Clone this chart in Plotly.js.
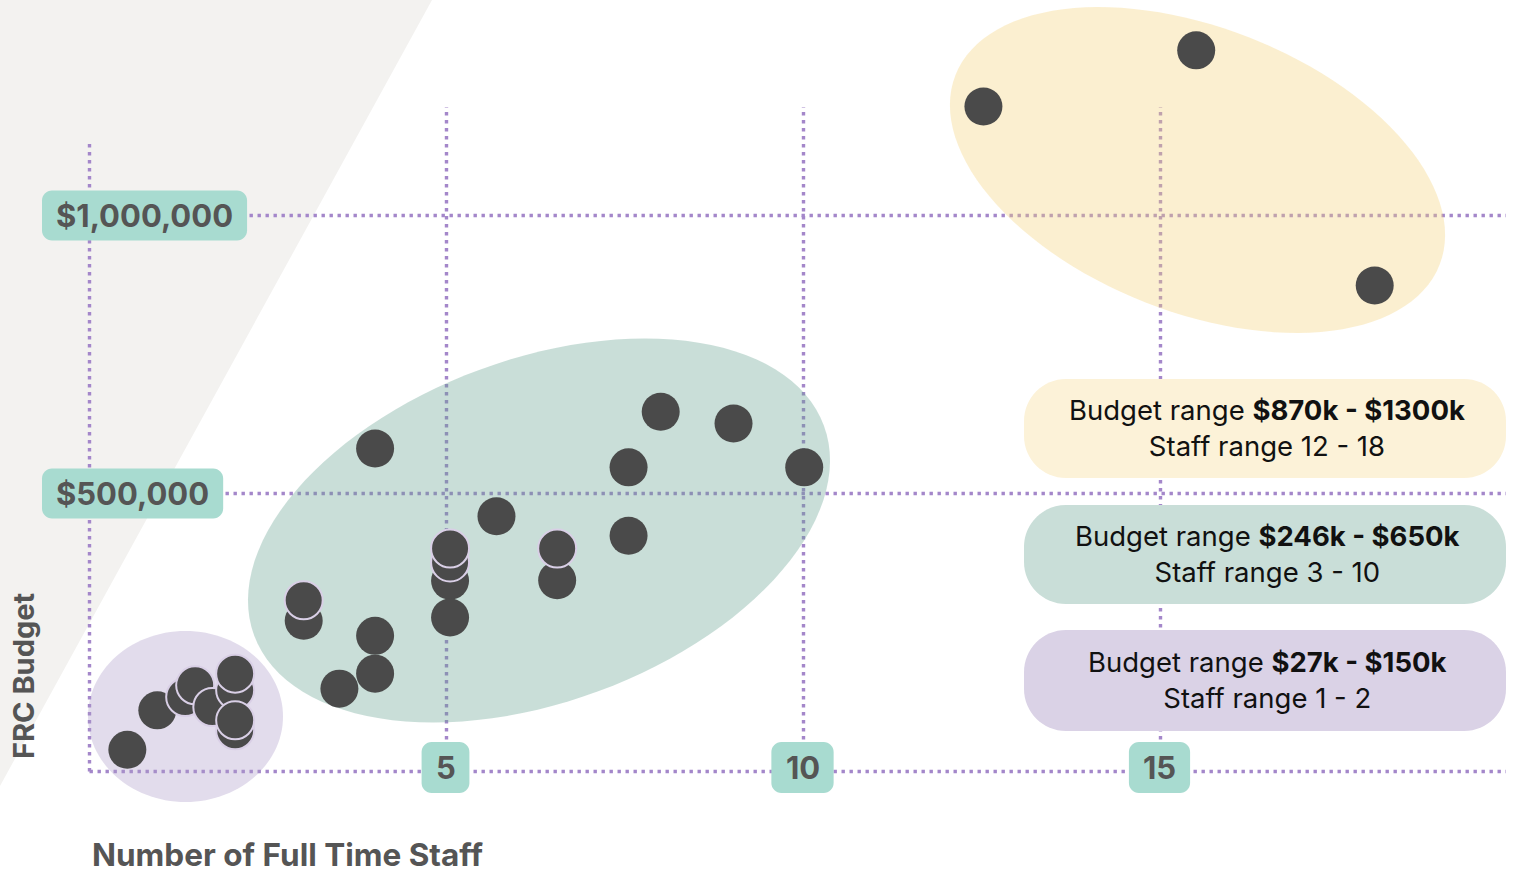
<!DOCTYPE html>
<html><head><meta charset="utf-8">
<script src="https://cdn.plot.ly/plotly-3.0.1.min.js"></script>
<style>html,body{margin:0;padding:0;background:#fff;overflow:hidden}#chart{width:1518px;height:873px}</style>
</head><body><div id="chart"></div>
<script>
// ---------- data ----------
const staffPlain  = [0.53, 0.95, 3.0, 4.0, 4.0, 3.5, 5.05, 5.05, 5.7, 6.55, 7.55, 4.0, 7.55, 8.0, 9.02, 10.01, 12.52, 15.5, 18.0];
const budgetPlain = [39000, 110000, 271000, 244000, 176000, 149000, 343000, 277000, 459000, 344000, 424000, 581000, 547000, 647000, 626000, 547000, 1196000, 1297000, 874000];
const staffOverlap  = [1.34, 1.48, 1.72, 2.04, 2.04, 2.04, 2.04, 3.0, 5.05, 5.05, 6.55];
const budgetOverlap = [134000, 155000, 116000, 74000, 146000, 92000, 176000, 308000, 376000, 401000, 401000];
const xTickVals = [5, 10, 15];
const xTickText = ['5', '10', '15'];
const yTickVals = [500000, 1000000];
const yTickText = ['$500,000', '$1,000,000'];
const groupBudget = ['$870k - $1300k', '$246k - $650k', '$27k - $150k'];
const groupStaff  = ['12 - 18', '3 - 10', '1 - 2'];
const xTitle = 'Number of Full Time Staff';
const yTitle = 'FRC Budget';

// ---------- geometry ----------
const W = 1518, H = 873;
const X0 = 89.5, SX = 71.4;            // pixel of x=0, px per staff
const Y0 = 771.5, SY = 278 / 500000;   // pixel of y=0, px per $
const dx = px => (px - X0) / SX;
const dy = py => (Y0 - py) / SY;
const P = (px, py) => dx(px) + ',' + dy(py);

const FONT = 'Inter, "Noto Sans", sans-serif';
const LINE = '#a487ca';
const TEXT = '#555555';

function roundRect(x0, y0, x1, y1, r) {
  const k = 0.5523 * r;
  return 'M' + P(x0 + r, y0) + ' L' + P(x1 - r, y0) +
    ' C' + P(x1 - r + k, y0) + ' ' + P(x1, y0 + r - k) + ' ' + P(x1, y0 + r) +
    ' L' + P(x1, y1 - r) +
    ' C' + P(x1, y1 - r + k) + ' ' + P(x1 - r + k, y1) + ' ' + P(x1 - r, y1) +
    ' L' + P(x0 + r, y1) +
    ' C' + P(x0 + r - k, y1) + ' ' + P(x0, y1 - r + k) + ' ' + P(x0, y1 - r) +
    ' L' + P(x0, y0 + r) +
    ' C' + P(x0, y0 + r - k) + ' ' + P(x0 + r - k, y0) + ' ' + P(x0 + r, y0) + ' Z';
}
function ellipse(cx, cy, a, b, degA) {
  const th = degA * Math.PI / 180, n = 120;
  let s = '';
  for (let i = 0; i <= n; i++) {
    const t = 2 * Math.PI * i / n;
    const px = cx + a * Math.cos(t) * Math.cos(th) - b * Math.sin(t) * Math.sin(th);
    const py = cy - (a * Math.cos(t) * Math.sin(th) + b * Math.sin(t) * Math.cos(th));
    s += (i === 0 ? 'M' : ' L') + P(px, py);
  }
  return s + ' Z';
}
const ctx = document.createElement('canvas').getContext('2d');
function textW(txt, size) { ctx.font = '700 ' + size + 'px Inter'; return ctx.measureText(txt).width; }

const shapes = [];
const annotations = [];
const dotted = {color: LINE, width: 3.4, dash: '3.4px,4.6px'};

// grey backdrop triangle
shapes.push({type: 'path', xref: 'x', yref: 'y', layer: 'below', line: {width: 0},
  fillcolor: '#f3f2f0', path: 'M' + P(0, 0) + ' L' + P(432, 0) + ' L' + P(0, 786) + ' Z'});

// grid / axis lines
const xEnd = dx(1506);
shapes.push({type: 'line', xref: 'x', yref: 'y', layer: 'below', x0: 0, x1: xEnd, y0: 0, y1: 0, line: dotted});
shapes.push({type: 'line', xref: 'x', yref: 'y', layer: 'below', x0: 0, x1: 0, y0: 0, y1: dy(143), line: dotted});
yTickVals.forEach(v => shapes.push({type: 'line', xref: 'x', yref: 'y', layer: 'below', x0: 0, x1: xEnd, y0: v, y1: v, line: dotted}));
xTickVals.forEach(v => shapes.push({type: 'line', xref: 'x', yref: 'y', layer: 'below', x0: v, x1: v, y0: 0, y1: dy(107), line: dotted}));

// cluster ellipses (translucent, over grid lines)
shapes.push({type: 'path', xref: 'x', yref: 'y', layer: 'below', line: {width: 0}, opacity: 0.35,
  fillcolor: '#f3d278', path: ellipse(1197.5, 170, 260, 142.3, -21.4)});
shapes.push({type: 'path', xref: 'x', yref: 'y', layer: 'below', line: {width: 0}, opacity: 0.35,
  fillcolor: '#65a190', path: ellipse(539, 530.5, 303.6, 171.4, 20.2)});
shapes.push({type: 'path', xref: 'x', yref: 'y', layer: 'below', line: {width: 0}, opacity: 0.35,
  fillcolor: '#ac9bc9', path: ellipse(185.5, 716.5, 97.5, 85.5, 0)});

// info boxes
const boxFill = ['#fcf2d8', '#c9ded8', '#dad2e6'];
const boxTop = [379, 505, 630], boxBot = [478, 604, 731];
groupBudget.forEach((b, i) => {
  shapes.push({type: 'path', xref: 'x', yref: 'y', layer: 'below', line: {width: 0},
    fillcolor: boxFill[i], path: roundRect(1024, boxTop[i], 1506, boxBot[i], 42)});
  annotations.push({xref: 'x', yref: 'y', x: dx(1267), y: dy((boxTop[i] + boxBot[i]) / 2 - 0.5),
    xanchor: 'center', yanchor: 'middle', showarrow: false, align: 'center',
    text: 'Budget range <b>' + b + '</b><br>Staff range ' + groupStaff[i],
    font: {family: FONT, size: 27.5, color: '#111111'}});
});

// tick label boxes
const TK = 31, PAD = 14;
yTickVals.forEach((v, i) => {
  const w = textW(yTickText[i], TK) + 2 * PAD;
  const cy = Y0 - v * SY;
  shapes.push({type: 'path', xref: 'x', yref: 'y', layer: 'below', line: {width: 0}, fillcolor: '#a8dbd0',
    path: roundRect(42, cy - 25, 42 + w, cy + 25, 10)});
  annotations.push({xref: 'x', yref: 'y', x: dx(42 + w / 2), y: v, xanchor: 'center', yanchor: 'middle',
    showarrow: false, text: '<b>' + yTickText[i] + '</b>', font: {family: FONT, size: TK, color: TEXT}});
});
xTickVals.forEach((v, i) => {
  const w = Math.max(textW(xTickText[i], TK) + 2 * PAD, 47);
  const cx = X0 + v * SX - 1, cy = 767.5;
  shapes.push({type: 'path', xref: 'x', yref: 'y', layer: 'below', line: {width: 0}, fillcolor: '#a8dbd0',
    path: roundRect(cx - w / 2, cy - 25.5, cx + w / 2, cy + 25.5, 10)});
  annotations.push({xref: 'x', yref: 'y', x: dx(cx), y: dy(cy), xanchor: 'center', yanchor: 'middle',
    showarrow: false, text: '<b>' + xTickText[i] + '</b>', font: {family: FONT, size: TK, color: TEXT}});
});

// axis titles
annotations.push({xref: 'x', yref: 'y', x: dx(91), y: dy(854), xanchor: 'left', yanchor: 'middle',
  borderpad: 0, showarrow: false, text: '<b>' + xTitle + '</b>', font: {family: FONT, size: 31.5, color: TEXT}});
annotations.push({xref: 'x', yref: 'y', x: dx(23), y: dy(676), xanchor: 'center', yanchor: 'middle',
  textangle: -90, showarrow: false, text: '<b>' + yTitle + '</b>', font: {family: FONT, size: 29, color: TEXT}});

const traces = [
  {type: 'scatter', mode: 'markers', x: staffPlain, y: budgetPlain, hoverinfo: 'skip',
   marker: {size: 38, color: '#4a4a4a', line: {width: 0}}},
  {type: 'scatter', mode: 'markers', x: staffOverlap, y: budgetOverlap, hoverinfo: 'skip',
   marker: {size: 38, color: '#4a4a4a', line: {width: 2, color: '#d9cfe6'}}}
];

const layout = {
  width: W, height: H, margin: {l: 0, r: 0, t: 0, b: 0, pad: 0},
  paper_bgcolor: '#ffffff', plot_bgcolor: 'rgba(0,0,0,0)', showlegend: false, hovermode: false,
  xaxis: {range: [dx(0), dx(W)], visible: false, fixedrange: true},
  yaxis: {range: [dy(H), dy(0)], visible: false, fixedrange: true},
  shapes: shapes, annotations: annotations
};
Plotly.newPlot('chart', traces, layout, {staticPlot: true, displayModeBar: false});
</script></body></html>
